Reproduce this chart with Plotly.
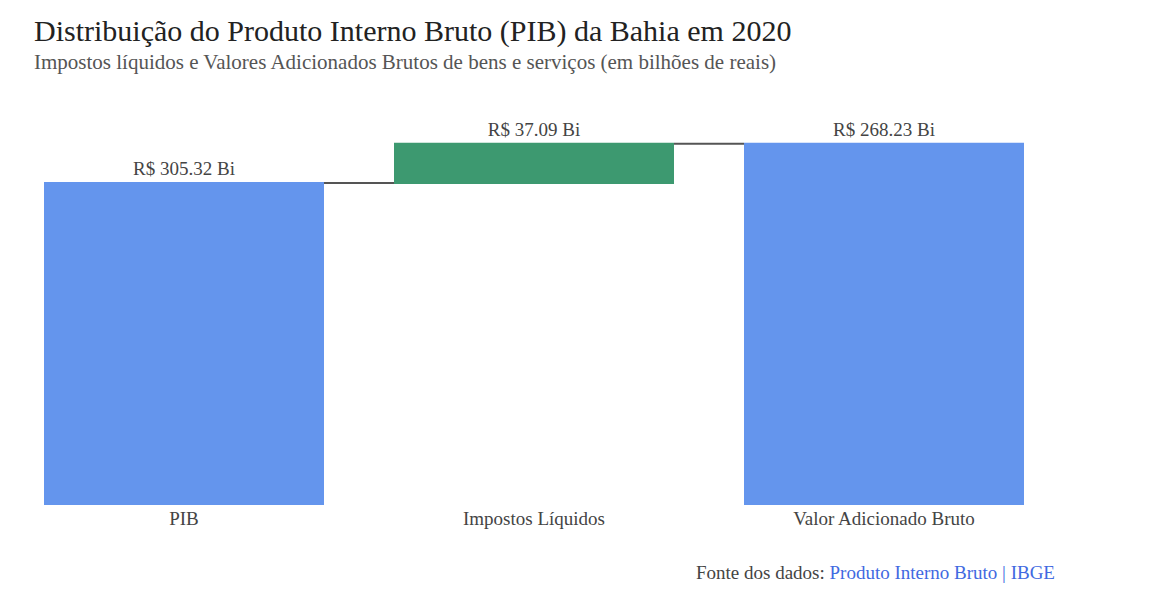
import plotly.graph_objects as go

categorias = ["PIB", "Impostos Líquidos", "Valor Adicionado Bruto"]
medidas = ["absolute", "relative", "total"]
valores = [305.32, 37.09, 268.23]
rotulos = ["R$ 305.32 Bi", "R$ 37.09 Bi", "R$ 268.23 Bi"]

FONT = "Liberation Serif, Times New Roman, serif"

fig = go.Figure(go.Waterfall(
    x=categorias,
    y=valores,
    measure=medidas,
    text=rotulos,
    textposition="outside",
    textfont=dict(family=FONT, size=19, color="#444"),
    increasing=dict(marker=dict(color="#3d9970")),
    decreasing=dict(marker=dict(color="#e74c3c")),
    totals=dict(marker=dict(color="#6495ed")),
    connector=dict(line=dict(color="#555", width=2)),
    hoverinfo="skip",
    cliponaxis=False,
))

fig.update_layout(
    width=1153, height=608,
    margin=dict(l=9, r=94, t=100, b=103),
    plot_bgcolor="white", paper_bgcolor="white",
    showlegend=False,
    font=dict(family=FONT, size=19, color="#444"),
    xaxis=dict(showgrid=False, showline=False, ticks="",
               tickfont=dict(family=FONT, size=19, color="#444")),
    yaxis=dict(visible=False, range=[0, 384]),
    annotations=[
        dict(text="Distribuição do Produto Interno Bruto (PIB) da Bahia em 2020",
             xref="paper", yref="paper", x=(34-9)/1050, y=1 + (100-50)/405,
             xanchor="left", yanchor="bottom", showarrow=False, xshift=-2,
             font=dict(family=FONT, size=30, color="#222")),
        dict(text="Impostos líquidos e Valores Adicionados Brutos de bens e serviços (em bilhões de reais)",
             xref="paper", yref="paper", x=(34-9)/1050, y=1 + (100-76)/405,
             xanchor="left", yanchor="bottom", showarrow=False, xshift=-2,
             font=dict(family=FONT, size=21, color="#555")),
        dict(text="Fonte dos dados: <span style='color:#4169e1'>Produto Interno Bruto | IBGE</span>",
             xref="paper", yref="paper", x=1, y=-(585-505)/405,
             xanchor="right", yanchor="bottom", showarrow=False, xshift=-2,
             font=dict(family=FONT, size=19, color="#444")),
    ],
)

fig.write_html("out.html")
